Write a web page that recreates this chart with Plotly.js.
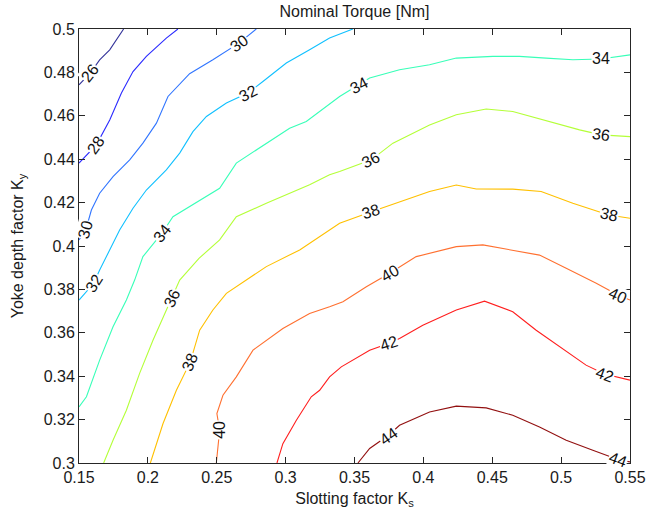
<!DOCTYPE html>
<html>
<head>
<meta charset="utf-8">
<script src="https://cdn.plot.ly/plotly-3.0.1.min.js"></script>
<style>html,body{margin:0;padding:0;background:#fff;}#chart{width:647px;height:516px;}</style>
</head>
<body>
<div id="chart"></div>
<script>
// Contour levels and their lines (Slotting factor Ks, Yoke depth factor Ky)
const levels = [26, 28, 30, 32, 34, 36, 38, 40, 42, 44];
const levelColors = ['#34349a', '#2a2aff', '#3075ff', '#10c0ff', '#38ffb8', '#b4ff38', '#ffc000', '#ff7030', '#ff1e1e', '#921010'];

const x26 = [0.15, 0.1583, 0.165, 0.1723, 0.1824];
const y26 = [0.4743, 0.4798, 0.4858, 0.4904, 0.5];

const x28 = [0.15, 0.1626, 0.1723, 0.1808, 0.1892, 0.1989, 0.2134, 0.2218];
const y28 = [0.4382, 0.4466, 0.4581, 0.4705, 0.4804, 0.4874, 0.4958, 0.5];

const x30 = [0.15, 0.1549, 0.159, 0.165, 0.1747, 0.1868, 0.1964, 0.2062, 0.2146, 0.2303, 0.2472, 0.2661, 0.2787];
const y30 = [0.4028, 0.4074, 0.4166, 0.4243, 0.432, 0.4397, 0.4474, 0.4566, 0.4689, 0.4794, 0.4858, 0.4935, 0.5];

const x32 = [0.15, 0.1607, 0.165, 0.1694, 0.1723, 0.1795, 0.1892, 0.1989, 0.2134, 0.2231, 0.2327, 0.2425, 0.257, 0.2726, 0.2835, 0.3005, 0.3174, 0.3319, 0.3488];
const y32 = [0.3751, 0.3828, 0.3889, 0.3943, 0.3982, 0.4074, 0.4174, 0.4258, 0.4351, 0.4428, 0.4527, 0.4597, 0.4659, 0.4705, 0.4758, 0.4843, 0.4904, 0.4958, 0.5];

const x34 = [0.15, 0.1554, 0.165, 0.1747, 0.1844, 0.1904, 0.1964, 0.2102, 0.2182, 0.2376, 0.2521, 0.2642, 0.286, 0.3029, 0.315, 0.3247, 0.3392, 0.361, 0.3827, 0.4045, 0.4239, 0.4504, 0.4698, 0.4891, 0.5085, 0.5286, 0.55];
const y34 = [0.3258, 0.3305, 0.3474, 0.3628, 0.3751, 0.3843, 0.3951, 0.4059, 0.4135, 0.4212, 0.4266, 0.4382, 0.4474, 0.4543, 0.4574, 0.462, 0.4689, 0.4774, 0.4812, 0.4835, 0.4866, 0.4874, 0.4874, 0.4866, 0.4858, 0.4862, 0.4881];

const x36 = [0.1679, 0.1747, 0.1844, 0.194, 0.2037, 0.2175, 0.2231, 0.2371, 0.2521, 0.2642, 0.286, 0.3174, 0.3319, 0.3392, 0.3622, 0.3779, 0.4045, 0.4239, 0.4456, 0.4649, 0.4916, 0.5134, 0.5291, 0.55];
const y36 = [0.3, 0.3105, 0.3243, 0.3413, 0.3566, 0.3759, 0.3843, 0.3943, 0.4028, 0.4135, 0.4197, 0.4282, 0.4328, 0.4343, 0.4397, 0.4474, 0.4558, 0.4605, 0.4631, 0.462, 0.4574, 0.4535, 0.4512, 0.4504];

const x38 = [0.2018, 0.211, 0.2207, 0.2308, 0.2376, 0.2472, 0.257, 0.2715, 0.286, 0.3102, 0.3247, 0.3392, 0.3622, 0.3827, 0.4045, 0.4239, 0.4384, 0.4649, 0.4855, 0.5085, 0.5346, 0.55];
const y38 = [0.3, 0.3182, 0.3335, 0.3466, 0.3612, 0.3705, 0.3782, 0.3843, 0.3905, 0.3982, 0.4043, 0.4105, 0.4158, 0.4204, 0.4251, 0.4281, 0.4263, 0.4262, 0.4251, 0.4197, 0.4143, 0.4128];

const x40 = [0.2497, 0.2521, 0.2501, 0.2545, 0.2642, 0.2763, 0.298, 0.3174, 0.3319, 0.3416, 0.3586, 0.3755, 0.3948, 0.4239, 0.4432, 0.4649, 0.4843, 0.5037, 0.5255, 0.5412, 0.55];
const y40 = [0.3, 0.3151, 0.3228, 0.3312, 0.3397, 0.352, 0.362, 0.3689, 0.372, 0.3743, 0.3812, 0.3874, 0.3951, 0.3997, 0.4005, 0.3982, 0.3958, 0.3897, 0.3828, 0.3774, 0.3751];

const x42 = [0.2937, 0.298, 0.3078, 0.3186, 0.3247, 0.3319, 0.3404, 0.361, 0.3747, 0.3827, 0.3996, 0.4239, 0.4444, 0.4649, 0.4819, 0.5012, 0.5181, 0.5315, 0.55];
const y42 = [0.3, 0.3089, 0.3197, 0.3305, 0.3335, 0.3397, 0.3443, 0.352, 0.3551, 0.3574, 0.3635, 0.3705, 0.3746, 0.3697, 0.3612, 0.3528, 0.3451, 0.341, 0.3382];

const x44 = [0.3525, 0.361, 0.3747, 0.3827, 0.4045, 0.4239, 0.4456, 0.4649, 0.4843, 0.5037, 0.523, 0.5412, 0.55];
const y44 = [0.3, 0.3067, 0.3128, 0.3174, 0.3235, 0.3262, 0.3254, 0.322, 0.3166, 0.3105, 0.3059, 0.3016, 0.3005];

const lineX = [x26, x28, x30, x32, x34, x36, x38, x40, x42, x44];
const lineY = [y26, y28, y30, y32, y34, y36, y38, y40, y42, y44];

// Inline contour labels
const labelText = ['26', '28', '30', '30', '32', '32', '34', '34', '34', '36', '36', '36', '38', '38', '38', '40', '40', '40', '42', '42', '44', '44'];
const labelX = [0.1583, 0.1626, 0.1549, 0.2661, 0.1607, 0.2726, 0.2102, 0.3532, 0.5286, 0.2175, 0.3622, 0.5291, 0.2308, 0.3622, 0.5346, 0.2521, 0.3755, 0.5412, 0.3747, 0.5315, 0.3747, 0.5412];
const labelY = [0.4798, 0.4466, 0.4074, 0.4935, 0.3828, 0.4705, 0.4059, 0.474, 0.4862, 0.3759, 0.4397, 0.4512, 0.3466, 0.4158, 0.4143, 0.3151, 0.3874, 0.3774, 0.3551, 0.341, 0.312, 0.3016];
const labelAngle = [-52, -55, -75, -35, -58, -28, -52, -28, 0, -65, -27, 8, -68, -18, 12, -90, -30, 25, -18, 20, -35, 20];

const xTicks = [0.15, 0.2, 0.25, 0.3, 0.35, 0.4, 0.45, 0.5, 0.55];
const yTicks = [0.3, 0.32, 0.34, 0.36, 0.38, 0.4, 0.42, 0.44, 0.46, 0.48, 0.5];

const traces = levels.map((lv, i) => ({
  type: 'scatter', mode: 'lines',
  x: lineX[i], y: lineY[i], name: String(lv),
  line: {color: levelColors[i], width: 1.1},
  hoverinfo: 'skip', showlegend: false
}));

const font = 'Liberation Sans, Arial, Helvetica, sans-serif';
const annotations = labelText.map((t, i) => ({
  x: labelX[i], y: labelY[i], xref: 'x', yref: 'y', text: t,
  showarrow: false, textangle: labelAngle[i],
  font: {family: font, size: 16, color: '#111'},
  bgcolor: '#ffffff', borderpad: 0,
  xanchor: 'center', yanchor: 'middle'
}));

const axisCommon = {
  showgrid: false, zeroline: false, showline: true, mirror: 'ticks',
  linecolor: '#262626', linewidth: 1, ticks: 'inside', ticklen: 6,
  tickcolor: '#262626', tickfont: {family: font, size: 16, color: '#1a1a1a'}
};

const layout = {
  width: 647, height: 516,
  margin: {l: 79, r: 17, t: 29, b: 53},
  paper_bgcolor: '#ffffff', plot_bgcolor: '#ffffff',
  title: {text: 'Nominal Torque [Nm]', x: 0.5, xref: 'paper', xanchor: 'center',
          y: 0.978, yref: 'container', yanchor: 'middle',
          font: {family: font, size: 16, color: '#1a1a1a'}},
  xaxis: Object.assign({}, axisCommon, {
    range: [0.15, 0.55], tickvals: xTicks, ticktext: xTicks.map(String),
    title: {text: 'Slotting factor K<sub>s</sub>', font: {family: font, size: 16, color: '#1a1a1a'}, standoff: 7}
  }),
  yaxis: Object.assign({}, axisCommon, {
    range: [0.3, 0.5], tickvals: yTicks, ticktext: yTicks.map(String),
    title: {text: 'Yoke depth factor K<sub>y</sub>', font: {family: font, size: 16, color: '#1a1a1a'}, standoff: 16}
  }),
  annotations: annotations
};

Plotly.newPlot('chart', traces, layout, {displayModeBar: false, staticPlot: true});
</script>
</body>
</html>
